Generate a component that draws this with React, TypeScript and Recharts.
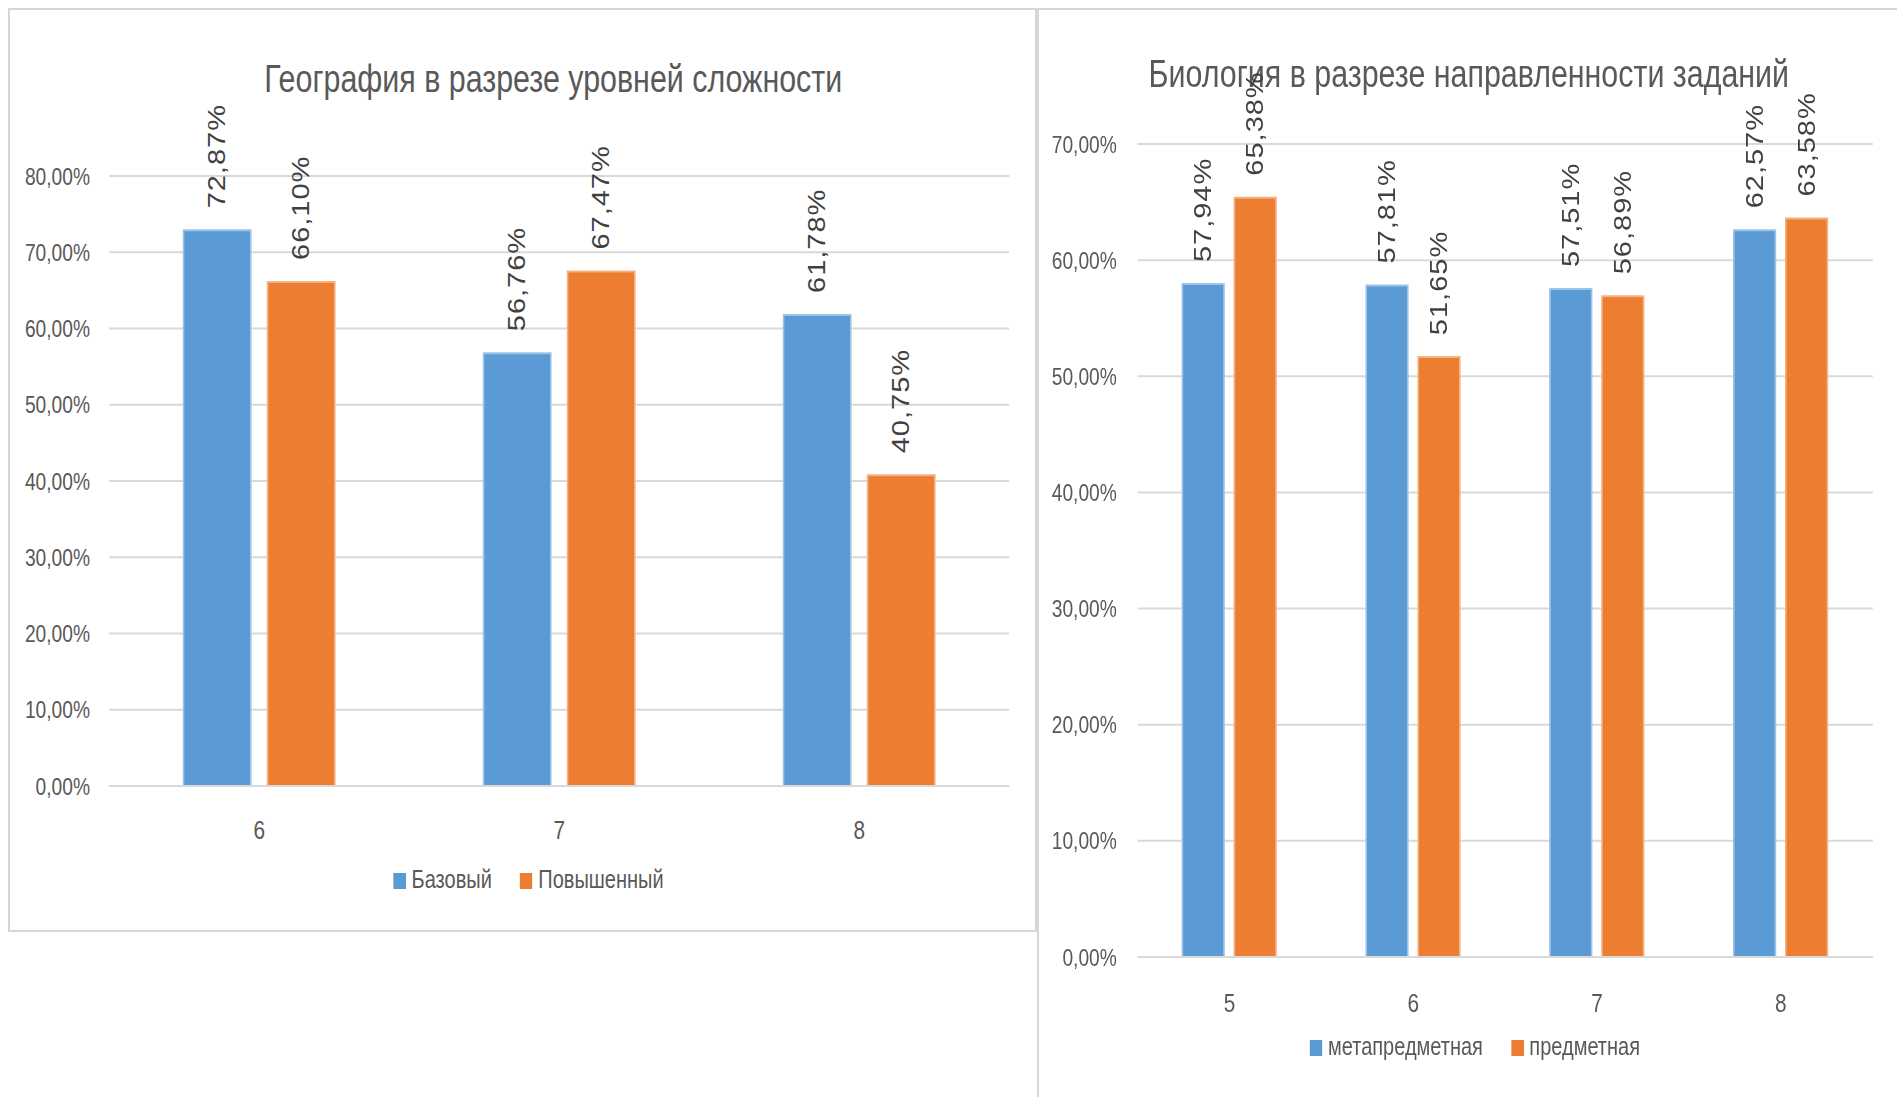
import React from 'react';
import { BarChart, Bar, XAxis, YAxis, CartesianGrid, Legend, LabelList } from 'recharts';

// ---------- data ----------
const geoGrades = ['6', '7', '8'];
const geoBaseValues = [72.87, 56.76, 61.78];
const geoAdvancedValues = [66.1, 67.47, 40.75];
const geoTicks = [0, 10, 20, 30, 40, 50, 60, 70, 80];
const geoSeriesNames = ['Базовый', 'Повышенный'];
const geoTitle = 'География в разрезе уровней сложности';

const bioGrades = ['5', '6', '7', '8'];
const bioMetaValues = [57.94, 57.81, 57.51, 62.57];
const bioSubjectValues = [65.38, 51.65, 56.89, 63.58];
const bioTicks = [0, 10, 20, 30, 40, 50, 60, 70];
const bioSeriesNames = ['метапредметная', 'предметная'];
const bioTitle = 'Биология в разрезе направленности заданий';

const geoData = geoGrades.map((g, i) => ({ grade: g, a: geoBaseValues[i], b: geoAdvancedValues[i] }));
const bioData = bioGrades.map((g, i) => ({ grade: g, a: bioMetaValues[i], b: bioSubjectValues[i] }));

// ---------- style ----------
const FONT = "'Liberation Sans', Arial, sans-serif";
const BLUE = '#5B9BD5';
const BLUE_EDGE = '#9DC3E6';
const ORANGE = '#ED7D31';
const ORANGE_EDGE = '#F4B183';
const GRID = '#d9d9d9';
const TEXT = '#595959';
const LABEL = '#404040';
const SX = 0.8; // horizontal squeeze of the original picture

const pct = (v: number) => v.toFixed(2).replace('.', ',') + '%';

const RotLabel = (props: any) => {
  const { x, y, width, value } = props;
  const cx = Number(x) + Number(width) / 2;
  const cy = Number(y) - 22;
  return (
    <text
      x={cx}
      y={cy}
      transform={`rotate(-90 ${cx} ${cy})`}
      textAnchor="start"
      dominantBaseline="central"
      fill={LABEL}
      fontSize={29}
      letterSpacing={1}
      fontFamily={FONT}
    >
      {pct(Number(value))}
    </text>
  );
};

const legendFormatter = (value: string) => (
  <span style={{ color: TEXT, marginLeft: 3, marginRight: 25 }}>{value}</span>
);

export default function App() {
  return (
    <div
      style={{
        position: 'absolute',
        left: 0,
        top: 0,
        width: 1897,
        height: 1097,
        background: '#ffffff',
        overflow: 'hidden',
      }}
    >
      {/* panel frames */}
      <div
        style={{
          position: 'absolute',
          left: 8,
          top: 8,
          width: 1029,
          height: 924,
          border: '2px solid #d6d6d6',
          boxSizing: 'border-box',
        }}
      />
      <div
        style={{
          position: 'absolute',
          left: 1037,
          top: 8,
          width: 870,
          height: 1100,
          border: '2px solid #d6d6d6',
          boxSizing: 'border-box',
        }}
      />

      {/* Geography */}
      <div
        style={{
          position: 'absolute',
          left: 10,
          top: 12,
          width: 1282,
          height: 920,
          transform: `scaleX(${SX})`,
          transformOrigin: 'left top',
        }}
      >
        <BarChart
          width={1282}
          height={920}
          data={geoData}
          margin={{ top: 164, right: 33, left: 0, bottom: 86 }}
          barSize={84}
          barGap={21}
        >
          <CartesianGrid vertical={false} stroke={GRID} strokeWidth={2} />
          <XAxis
            dataKey="grade"
            height={60}
            tickLine={false}
            tickSize={0}
            tickMargin={35}
            axisLine={{ stroke: GRID, strokeWidth: 2 }}
            tick={{ fill: TEXT, fontSize: 26, fontFamily: FONT }}
          />
          <YAxis
            width={124}
            domain={[0, 80]}
            ticks={geoTicks}
            interval={0}
            axisLine={false}
            tickLine={false}
            tickSize={0}
            tickMargin={24}
            tickFormatter={pct}
            tick={{ fill: TEXT, fontSize: 24, fontFamily: FONT }}
          />
          <Legend
            layout="horizontal"
            verticalAlign="middle"
            align="center"
            iconType="square"
            iconSize={16}
            formatter={legendFormatter}
            wrapperStyle={{ top: 853, left: 0, width: 1331, fontSize: 25, fontFamily: FONT }}
          />
          <Bar dataKey="a" name={geoSeriesNames[0]} fill={BLUE} stroke={BLUE_EDGE} strokeWidth={2} isAnimationActive={false}>
            <LabelList dataKey="a" content={RotLabel} />
          </Bar>
          <Bar dataKey="b" name={geoSeriesNames[1]} fill={ORANGE} stroke={ORANGE_EDGE} strokeWidth={2} isAnimationActive={false}>
            <LabelList dataKey="b" content={RotLabel} />
          </Bar>
          <text x={679} y={80} textAnchor="middle" fill={TEXT} fontSize={38} fontFamily={FONT}>
            {geoTitle}
          </text>
        </BarChart>
      </div>

      {/* Biology */}
      <div
        style={{
          position: 'absolute',
          left: 1036,
          top: 12,
          width: 1076,
          height: 1085,
          transform: `scaleX(${SX})`,
          transformOrigin: 'left top',
        }}
      >
        <BarChart
          width={1076}
          height={1085}
          data={bioData}
          margin={{ top: 132, right: 30, left: 0, bottom: 80 }}
          barSize={52}
          barGap={13}
        >
          <CartesianGrid vertical={false} stroke={GRID} strokeWidth={2} />
          <XAxis
            dataKey="grade"
            height={60}
            tickLine={false}
            tickSize={0}
            tickMargin={37}
            axisLine={{ stroke: GRID, strokeWidth: 2 }}
            tick={{ fill: TEXT, fontSize: 26, fontFamily: FONT }}
          />
          <YAxis
            width={127}
            domain={[0, 70]}
            ticks={bioTicks}
            interval={0}
            axisLine={false}
            tickLine={false}
            tickSize={0}
            tickMargin={26}
            tickFormatter={pct}
            tick={{ fill: TEXT, fontSize: 24, fontFamily: FONT }}
          />
          <Legend
            layout="horizontal"
            verticalAlign="middle"
            align="center"
            iconType="square"
            iconSize={16}
            formatter={legendFormatter}
            wrapperStyle={{ top: 1020, left: 0, width: 1132, fontSize: 25, fontFamily: FONT }}
          />
          <Bar dataKey="a" name={bioSeriesNames[0]} fill={BLUE} stroke={BLUE_EDGE} strokeWidth={2} isAnimationActive={false}>
            <LabelList dataKey="a" content={RotLabel} />
          </Bar>
          <Bar dataKey="b" name={bioSeriesNames[1]} fill={ORANGE} stroke={ORANGE_EDGE} strokeWidth={2} isAnimationActive={false}>
            <LabelList dataKey="b" content={RotLabel} />
          </Bar>
          <text x={541} y={75} textAnchor="middle" fill={TEXT} fontSize={38} fontFamily={FONT}>
            {bioTitle}
          </text>
        </BarChart>
      </div>
    </div>
  );
}
